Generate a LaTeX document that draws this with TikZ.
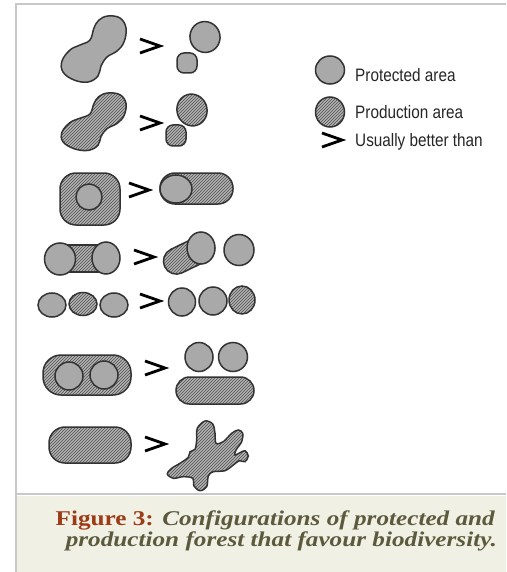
\documentclass[tikz,border=0pt]{standalone}
\usepackage{fontspec}
\setmainfont{Liberation Serif}
\newfontfamily\legfont[FakeStretch=0.85]{Liberation Sans}
\newfontfamily\capfont[FakeStretch=1.2]{Liberation Serif}
\usetikzlibrary{patterns}
\definecolor{framegray}{HTML}{C8C8C8}
\definecolor{capbg}{HTML}{F1F0E5}
\definecolor{figred}{HTML}{9C3B16}
\definecolor{capolive}{HTML}{5C5A3C}
\definecolor{areagray}{HTML}{A9A9A9}
\definecolor{hatchbase}{HTML}{B4B4B4}
\definecolor{outline}{HTML}{333333}
\tikzset{
  prot/.style={draw=outline, line width=1.5pt, fill=areagray},
  prod/.style={draw=outline, line width=1.5pt, preaction={fill=hatchbase}, pattern=north east lines, pattern color=black!70},
  better/.style={draw=black, line width=2.8pt, line cap=butt, line join=miter},
  legtext/.style={anchor=base west, inner sep=0pt, font=\legfont\fontsize{18}{20}\selectfont, text=black!85},
  captext/.style={anchor=base east, inner sep=0pt, font=\capfont\fontsize{21}{24}\selectfont}
}
\newcommand{\gtsign}[2]{\draw[better] (#1-10,#2-7) -- (#1+10,#2) -- (#1-10,#2+7);}
\begin{document}
\begin{tikzpicture}[x=1pt,y=-1pt]
\useasboundingbox (0,0) rectangle (506,572);
\fill[white] (0,0) rectangle (506,572);
% frame
\fill[capbg] (17,495.5) rectangle (506,572);
\draw[framegray, line width=2pt] (15,4) -- (506,4);
\draw[framegray, line width=2pt] (16,3) -- (16,572);
\draw[framegray, line width=2.5pt] (16,494) -- (506,494);

% row 1
\draw[prot] plot[smooth cycle, tension=0.65] coordinates {(108,16) (120,18) (126,28) (124,42) (117,51) (107,57) (101,66) (98,76) (88,82) (74,80) (63,72) (62,61) (70,50) (80,45) (90,40) (94,28) (99,20)};
\gtsign{150}{46}
\draw[prot, rotate around={20:(205,37)}] (205,37) ellipse [x radius=15, y radius=15.5];
\draw[prot, rounded corners=7pt] (177,53) rectangle (197,73);

% row 2
\begin{scope}[shift={(0,93)}, yscale=0.87, shift={(0,-16)}]
\draw[prod] plot[smooth cycle, tension=0.65] coordinates {(108,16) (120,18) (126,28) (124,42) (117,51) (107,57) (101,66) (98,76) (88,82) (74,80) (63,72) (62,61) (70,50) (80,45) (90,40) (94,28) (99,20)};
\end{scope}
\gtsign{150}{123}
\draw[prod, rotate around={20:(192,110)}] (192,110) ellipse [x radius=15, y radius=16];
\draw[prod, rounded corners=7pt] (166,125) rectangle (186,146);

% row 3
\draw[prod, rounded corners=16pt] (60,173) rectangle (120,225);
\draw[prot] (89,197) circle [radius=13];
\gtsign{139}{190}
\draw[prod, rounded corners=15pt] (160,173) rectangle (233,204);
\draw[prot] (176,189) ellipse [x radius=16, y radius=14];

% row 4
\draw[prod] (60,245) rectangle (106,272);
\draw[prot] (60,259) ellipse [x radius=15.5, y radius=16];
\draw[prot] (106,258) ellipse [x radius=14, y radius=16];
\gtsign{144}{257}
\begin{scope}[shift={(189,255)}, rotate=26]
\draw[prod, rounded corners=13pt] (-27,-13) rectangle (27,13);
\end{scope}
\draw[prot] (201,248) ellipse [x radius=14, y radius=16];
\draw[prot] (239,250) ellipse [x radius=15, y radius=15.5];

% row 5
\draw[prot] (52,305) ellipse [x radius=14, y radius=12];
\draw[prod] (83,304) ellipse [x radius=14, y radius=11.5];
\draw[prot] (114,305) ellipse [x radius=14, y radius=12];
\gtsign{150}{301}
\draw[prot] (182,302) ellipse [x radius=13.5, y radius=14];
\draw[prot] (213,301) ellipse [x radius=14, y radius=14];
\draw[prod] (242,300) ellipse [x radius=13, y radius=14];

% row 6
\draw[prod, rounded corners=18pt] (43,355) rectangle (131,395);
\draw[prot] (69,376) circle [radius=14];
\draw[prot] (104,375) circle [radius=14];
\gtsign{155}{368}
\draw[prot] (199,357) ellipse [x radius=14, y radius=14.5];
\draw[prot] (233,357) ellipse [x radius=14.5, y radius=14.5];
\draw[prod, rounded corners=13.5pt] (176,377) rectangle (254,404);

% row 7
\draw[prod, rounded corners=16pt] (49,427) rectangle (131,463);
\gtsign{155}{444}
\draw[prod] plot[smooth cycle, tension=0.55] coordinates {(205,421) (212.7,424) (215,433.3) (216,443.3) (223.3,441.7) (231.7,433.3) (238.3,430) (242.7,433.3) (241.7,441.7) (236,450) (235,455) (240,452.7) (245,450.7) (248.3,456) (245,461.7) (239.3,460.7) (233.3,465) (225,470.7) (213.3,471.7) (208.3,476) (206.7,486.7) (200,490.7) (194,486) (192.7,478.3) (183.3,476.7) (173.3,478.3) (167.3,474) (171.7,468.3) (180,463.3) (188.3,457.3) (190,451.7) (195,449.3) (196.7,440) (197.3,428.3)};

% legend
\draw[prot] (330,70) ellipse [x radius=14.5, y radius=14];
\node[legtext] (lp) at (355,82) {Protected area};
\draw[prod] (330,112) ellipse [x radius=14.5, y radius=15];
\node[legtext] (lq) at (355,118.3) {Production area};
\gtsign{332}{140}
\node[legtext] (lu) at (355,147) {Usually better than};

% caption
\node[captext] (c1) at (495,525)
  {\textcolor{figred}{\bfseries Figure 3:} \textcolor{capolive}{\bfseries\itshape Configurations of protected and}};
\node[captext] (c2) at (497,546)
  {\textcolor{capolive}{\bfseries\itshape production forest that favour biodiversity.}};
\end{tikzpicture}
\end{document}
